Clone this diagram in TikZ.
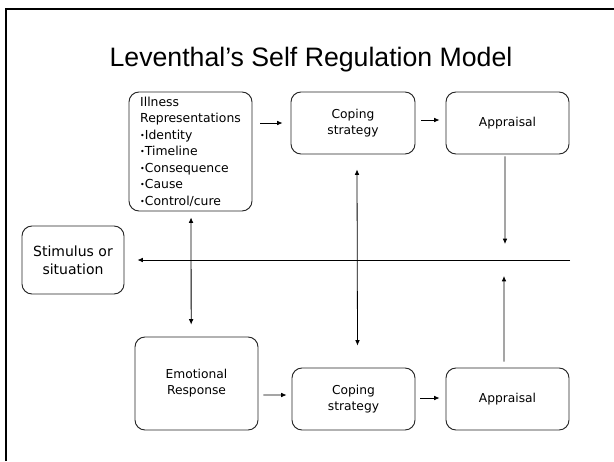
\documentclass[tikz,border=0pt]{standalone}
\usepackage{fontspec}
\setmainfont{DejaVu Sans}
\newfontfamily\titlefont{Liberation Sans}
\usetikzlibrary{arrows.meta}
\newcommand{\bul}{{\fontsize{6}{6}\selectfont\raisebox{0.6pt}{•}}}
\begin{document}
\begin{tikzpicture}[x=0.75pt,y=-0.75pt,
  box/.style={draw=black!85, line width=0.7pt, rounded corners=7.5pt, align=center,
    font=\fontsize{9.2}{12}\selectfont, inner sep=0pt},
  arr/.style={-{Latex[length=4pt,width=3.5pt]}, line width=0.6pt},
  darr/.style={{Latex[length=4pt,width=3.5pt]}-{Latex[length=4pt,width=3.5pt]}, line width=0.6pt},
  plain/.style={line width=0.6pt}]
\useasboundingbox (0,0) rectangle (614,461);
\draw[line width=1.5pt] (6,461) -- (6,9) -- (614,9);

\node[font=\titlefont\fontsize{20}{24}\selectfont] (title) at (311,60) {Leventhal’s Self Regulation Model};

\node[box, minimum width=92.25pt, minimum height=89.25pt, align=left,
  font=\fontsize{9.3}{12.4}\selectfont] (ill) at (190.5,151.5)
  {Illness\\Representations\\\bul Identity\\\bul Timeline\\\bul Consequence\\\bul Cause\\\bul Control/cure};
\node[box, minimum width=93pt, minimum height=46.5pt] (cop1) at (353,123) {Coping\\strategy};
\node[box, minimum width=92.25pt, minimum height=46.5pt] (app1) at (507.5,123) {Appraisal};
\node[box, minimum width=76.5pt, minimum height=51pt,
  font=\fontsize{10.5}{13.5}\selectfont] (stim) at (73,260) {Stimulus or\\situation};
\node[box, minimum width=92.25pt, minimum height=69.75pt] (emo) at (196.5,383.5) {Emotional\\Response};
\node[box, minimum width=92.25pt, minimum height=46.5pt] (cop2) at (353.5,399) {Coping\\strategy};
\node[box, minimum width=92.25pt, minimum height=46.5pt] (app2) at (507.5,399) {Appraisal};

\coordinate (hr) at (570,260);
\coordinate (d1) at (505,244);
\coordinate (u1) at (504,276);

\draw[arr] ([xshift=6pt]ill.east |- cop1.center) -- ([xshift=-6pt]cop1.west);
\draw[arr] ([xshift=4.5pt,yshift=2.25pt]cop1.east) -- ([xshift=-4.5pt,yshift=2.25pt]app1.west);
\draw[arr] ([xshift=-1.9pt,yshift=-1.5pt]app1.south) -- (d1);
\draw[arr] (hr) -- ([xshift=9.75pt]stim.east);
\draw[arr] ([xshift=-2.6pt,yshift=4.5pt]app2.north) -- (u1);
\draw[darr] ([xshift=3pt,yshift=-11.25pt]cop1.south) -- ([xshift=3pt,yshift=16.5pt]cop2.north);
\draw[darr] ([xshift=0.4pt,yshift=-4.5pt]ill.south) -- ([xshift=-4pt,yshift=9pt]emo.north);
\draw[arr] ([xshift=3.75pt,yshift=-8.6pt]emo.east) -- ([xshift=-3.75pt,yshift=3pt]cop2.west);
\draw[arr] ([xshift=3.75pt,yshift=0.75pt]cop2.east) -- ([xshift=-4.5pt,yshift=0.75pt]app2.west);
\end{tikzpicture}
\end{document}
